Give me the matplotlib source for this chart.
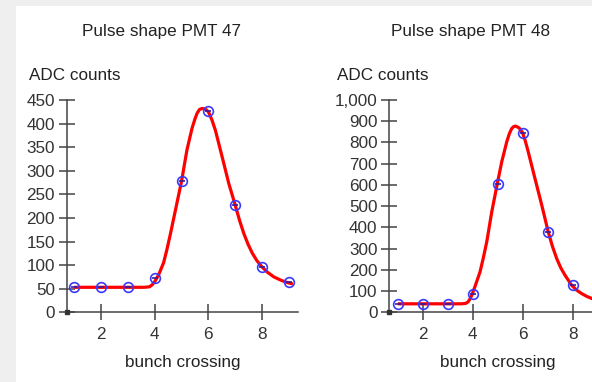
import matplotlib.pyplot as plt
from matplotlib.patches import Rectangle
from matplotlib.ticker import FixedLocator, StrMethodFormatter

plt.rcParams['font.family'] = ['Liberation Sans', 'DejaVu Sans']

# bunch crossings and measured ADC samples
bx = [1, 2, 3, 4, 5, 6, 7, 8, 9]
adc_47 = [53, 53, 53, 72, 279, 426, 227, 96, 64]
adc_48 = [39, 39, 39, 88, 605, 845, 378, 127, 55]

# fitted pulse shape, sampled along the bunch-crossing axis
fit_x_47 = [1.0, 3.6, 3.8, 3.9, 4.0, 4.15, 4.33, 4.45, 4.58, 4.77, 5.0, 5.2,
            5.39, 5.5, 5.58, 5.67, 5.76, 5.88, 6.0, 6.13, 6.26, 6.51, 6.76,
            7.0, 7.16, 7.32, 7.48, 7.63, 7.8, 8.0, 8.2, 8.44, 8.7, 8.94, 9.15]
fit_y_47 = [53, 53, 54, 58, 65, 80, 105, 132, 165, 216, 278, 344,
            390, 410, 422, 430, 432, 431, 425, 408, 386, 330, 273,
            227, 195, 167, 144, 126, 110, 96, 85, 75, 68, 63, 60]
fit_x_48 = [1.0, 3.55, 3.72, 3.82, 3.9, 3.96, 4.1, 4.29, 4.42, 4.56, 4.76, 4.98,
            5.16, 5.36, 5.46, 5.56, 5.64, 5.72, 5.85, 5.99, 6.1, 6.22, 6.49,
            6.76, 7.02, 7.19, 7.36, 7.52, 7.69, 7.96, 8.16, 8.36, 8.56, 8.76,
            9.2]
fit_y_48 = [40, 40, 42, 50, 65, 80, 125, 190, 255, 332, 473, 605,
            709, 803, 840, 866, 875, 877, 869, 847, 808, 756, 630,
            505, 379, 310, 253, 210, 175, 127, 104, 88, 75, 65, 50]

x_ticks = [2, 4, 6, 8]
y_ticks_47 = list(range(0, 451, 50))
y_ticks_48 = list(range(0, 1001, 100))

W, H = 592, 382
fig = plt.figure(figsize=(W / 100, H / 100), dpi=100, facecolor='#efefef')
# white panel behind both plots, leaving a grey strip on the left and top
fig.patches.append(Rectangle((16 / W, 0), 1, (H - 6) / H, transform=fig.transFigure,
                             facecolor='white', edgecolor='none', zorder=-10))

TXT = '#222222'
AX = '#444444'
FS = 12.3


def panel(rect, fit_x, fit_y, pts, yticks, xlim, ylim, title, title_x, ylab_x, xlab_x, fmt):
    ax = fig.add_axes(rect)
    ax.set_facecolor('none')
    ax.plot(fit_x, fit_y, color='#ff0000', lw=2.3, solid_joinstyle='round',
            solid_capstyle='butt', zorder=2)
    ax.plot(bx, pts, ls='none', marker='o', ms=7, mfc='none', mec='#3a3aff',
            mew=1.2, zorder=3, clip_on=False)
    ax.plot(bx, pts, ls='none', marker='_', ms=4, mec='#3a1aa0', mew=1.2, zorder=4,
            clip_on=False)
    ax.set_xlim(*xlim)
    ax.set_ylim(*ylim)
    for side in ('top', 'right'):
        ax.spines[side].set_visible(False)
    for side in ('left', 'bottom'):
        ax.spines[side].set_color(AX)
        ax.spines[side].set_linewidth(1.1)
    ax.xaxis.set_major_locator(FixedLocator(x_ticks))
    ax.yaxis.set_major_locator(FixedLocator(yticks))
    ax.yaxis.set_major_formatter(StrMethodFormatter(fmt))
    ax.tick_params(direction='inout', length=11, width=1.1, color=AX,
                   labelsize=FS, labelcolor='#333333')
    ax.tick_params(axis='x', pad=5.2)
    ax.tick_params(axis='y', pad=3.0)
    ax.plot([0], [0], transform=ax.transAxes, marker='s', ms=2.6, color='#333333',
            clip_on=False, zorder=5)
    fig.text(title_x / W, (H - 36) / H, title, ha='center', va='baseline',
             fontsize=FS, color=TXT)
    fig.text(ylab_x / W, (H - 80) / H, 'ADC counts', ha='left', va='baseline',
             fontsize=FS, color=TXT)
    fig.text(xlab_x / W, (H - 366.7) / H, 'bunch crossing', ha='center', va='baseline',
             fontsize=FS, color=TXT)
    return ax


bottom = (H - 312.3) / H
height = 212.3 / H
panel([66.7 / W, bottom, (298.3 - 66.7) / W, height], fit_x_47, fit_y_47, adc_47,
      y_ticks_47, (0.72, 9.35), (0, 450), 'Pulse shape PMT 47', 161, 29, 182.5,
      '{x:.0f}')
panel([389.3 / W, bottom, (606.7 - 389.3) / W, height], fit_x_48, fit_y_48, adc_48,
      y_ticks_48, (0.66, 9.36), (0, 1000), 'Pulse shape PMT 48', 470.5, 337.3, 498,
      '{x:,.0f}')

fig.savefig('out.png', dpi=100, facecolor=fig.get_facecolor())
